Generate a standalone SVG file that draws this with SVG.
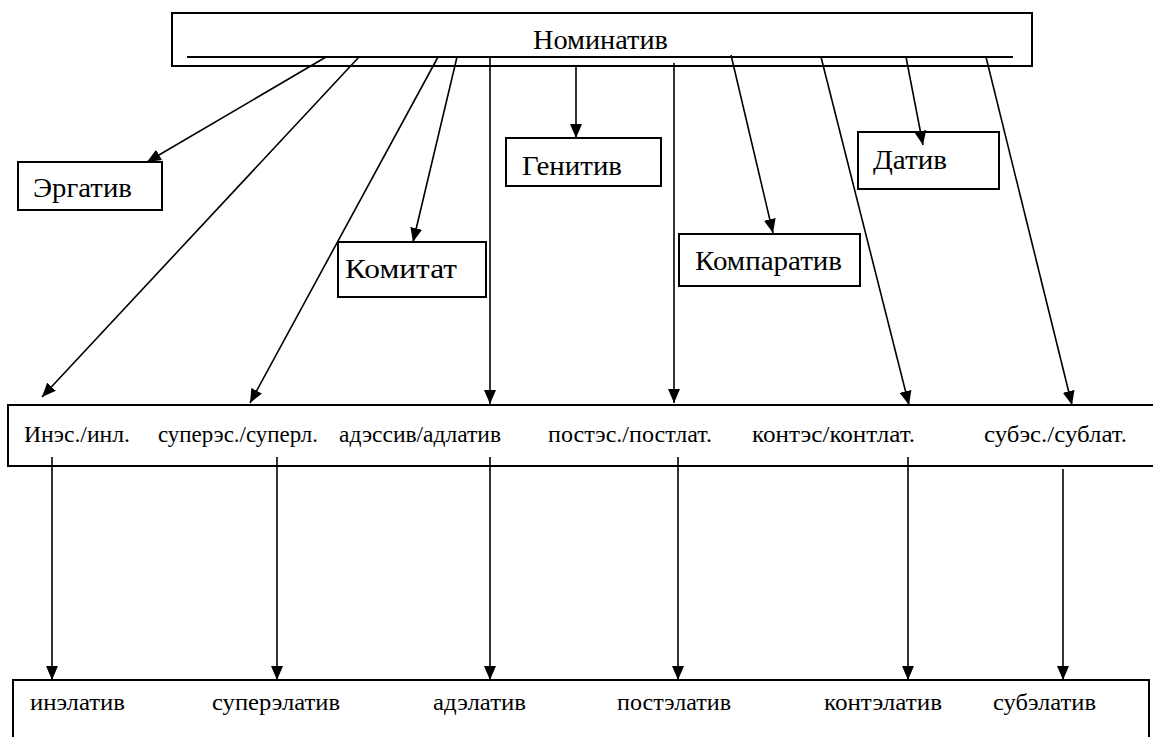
<svg xmlns="http://www.w3.org/2000/svg" width="1153" height="737" viewBox="0 0 1153 737">
<style>
.box{fill:#fff;stroke:#000;stroke-width:2}
text{font-family:"Liberation Serif","DejaVu Serif","Times New Roman",serif;fill:#000}
.big{font-size:28px}
.sm{font-size:24px}
.c line{stroke:#000;stroke-width:1.6;fill:none}
.a{marker-end:url(#ah)}
</style>
<defs>
<marker id="ah" markerUnits="userSpaceOnUse" markerWidth="14" markerHeight="12" viewBox="0 0 14 12" refX="14" refY="6" orient="auto">
<path d="M0,0 L14,6 L0,12 Z" fill="#000"/>
</marker>
</defs>
<rect width="1153" height="737" fill="#fff"/>
<g id="n-nominativ">
<rect class="box" x="172" y="13" width="860" height="53"/>
<line x1="187" y1="57" x2="1013" y2="57" stroke="#000" stroke-width="2"/>
<text class="big" x="533" y="49" textLength="135" lengthAdjust="spacingAndGlyphs">Номинатив</text>
</g>
<g id="n-ergativ">
<rect class="box" x="18" y="162" width="144" height="48"/>
<text class="big" x="33" y="197" textLength="99" lengthAdjust="spacingAndGlyphs">Эргатив</text>
</g>
<g id="n-komitat">
<rect class="box" x="338" y="242" width="148" height="55"/>
<text class="big" x="345" y="278" textLength="112" lengthAdjust="spacingAndGlyphs">Комитат</text>
</g>
<g id="n-genitiv">
<rect class="box" x="506" y="138" width="155" height="48"/>
<text class="big" x="522" y="175" textLength="100" lengthAdjust="spacingAndGlyphs">Генитив</text>
</g>
<g id="n-komparativ">
<rect class="box" x="679" y="234" width="181" height="52"/>
<text class="big" x="695" y="270" textLength="147" lengthAdjust="spacingAndGlyphs">Компаратив</text>
</g>
<g id="n-dativ">
<rect class="box" x="858" y="132" width="141" height="57"/>
<text class="big" x="873" y="169" textLength="74" lengthAdjust="spacingAndGlyphs">Датив</text>
</g>
<g id="n-local">
<rect class="box" x="8" y="405" width="1150" height="61"/>
<text class="sm" x="24" y="442" textLength="106" lengthAdjust="spacingAndGlyphs">Инэс./инл.</text>
<text class="sm" x="158" y="442" textLength="160" lengthAdjust="spacingAndGlyphs">суперэс./суперл.</text>
<text class="sm" x="339" y="442" textLength="162" lengthAdjust="spacingAndGlyphs">адэссив/адлатив</text>
<text class="sm" x="548" y="442" textLength="164" lengthAdjust="spacingAndGlyphs">постэс./постлат.</text>
<text class="sm" x="752" y="442" textLength="163" lengthAdjust="spacingAndGlyphs">контэс/контлат.</text>
<text class="sm" x="984" y="442" textLength="143" lengthAdjust="spacingAndGlyphs">субэс./сублат.</text>
</g>
<g id="n-elativ">
<rect class="box" x="13" y="680" width="1136" height="70"/>
<text class="sm" x="30" y="710" textLength="95" lengthAdjust="spacingAndGlyphs">инэлатив</text>
<text class="sm" x="212" y="710" textLength="128" lengthAdjust="spacingAndGlyphs">суперэлатив</text>
<text class="sm" x="433" y="710" textLength="93" lengthAdjust="spacingAndGlyphs">адэлатив</text>
<text class="sm" x="617" y="710" textLength="114" lengthAdjust="spacingAndGlyphs">постэлатив</text>
<text class="sm" x="824" y="710" textLength="118" lengthAdjust="spacingAndGlyphs">контэлатив</text>
<text class="sm" x="993" y="710" textLength="103" lengthAdjust="spacingAndGlyphs">субэлатив</text>
</g>
<g id="connectors" class="c">
<line class="a" x1="326" y1="57" x2="147" y2="162"/>
<line class="a" x1="359" y1="57" x2="42" y2="397"/>
<line class="a" x1="438" y1="57" x2="250" y2="403"/>
<line class="a" x1="457" y1="57" x2="413" y2="242"/>
<line class="a" x1="490" y1="57" x2="490" y2="404"/>
<line class="a" x1="576" y1="66" x2="576" y2="138"/>
<line class="a" x1="674" y1="63" x2="674" y2="403"/>
<line class="a" x1="731" y1="55" x2="773" y2="233"/>
<line class="a" x1="821" y1="57" x2="909" y2="405"/>
<line class="a" x1="906" y1="57" x2="923" y2="145"/>
<line class="a" x1="986" y1="57" x2="1072" y2="405"/>
<line class="a" x1="52" y1="457" x2="52" y2="680"/>
<line class="a" x1="277" y1="457" x2="277" y2="680"/>
<line class="a" x1="490" y1="457" x2="490" y2="680"/>
<line class="a" x1="678" y1="457" x2="678" y2="680"/>
<line class="a" x1="908" y1="457" x2="908" y2="680"/>
<line class="a" x1="1063" y1="469" x2="1063" y2="680"/>
</g>
</svg>
